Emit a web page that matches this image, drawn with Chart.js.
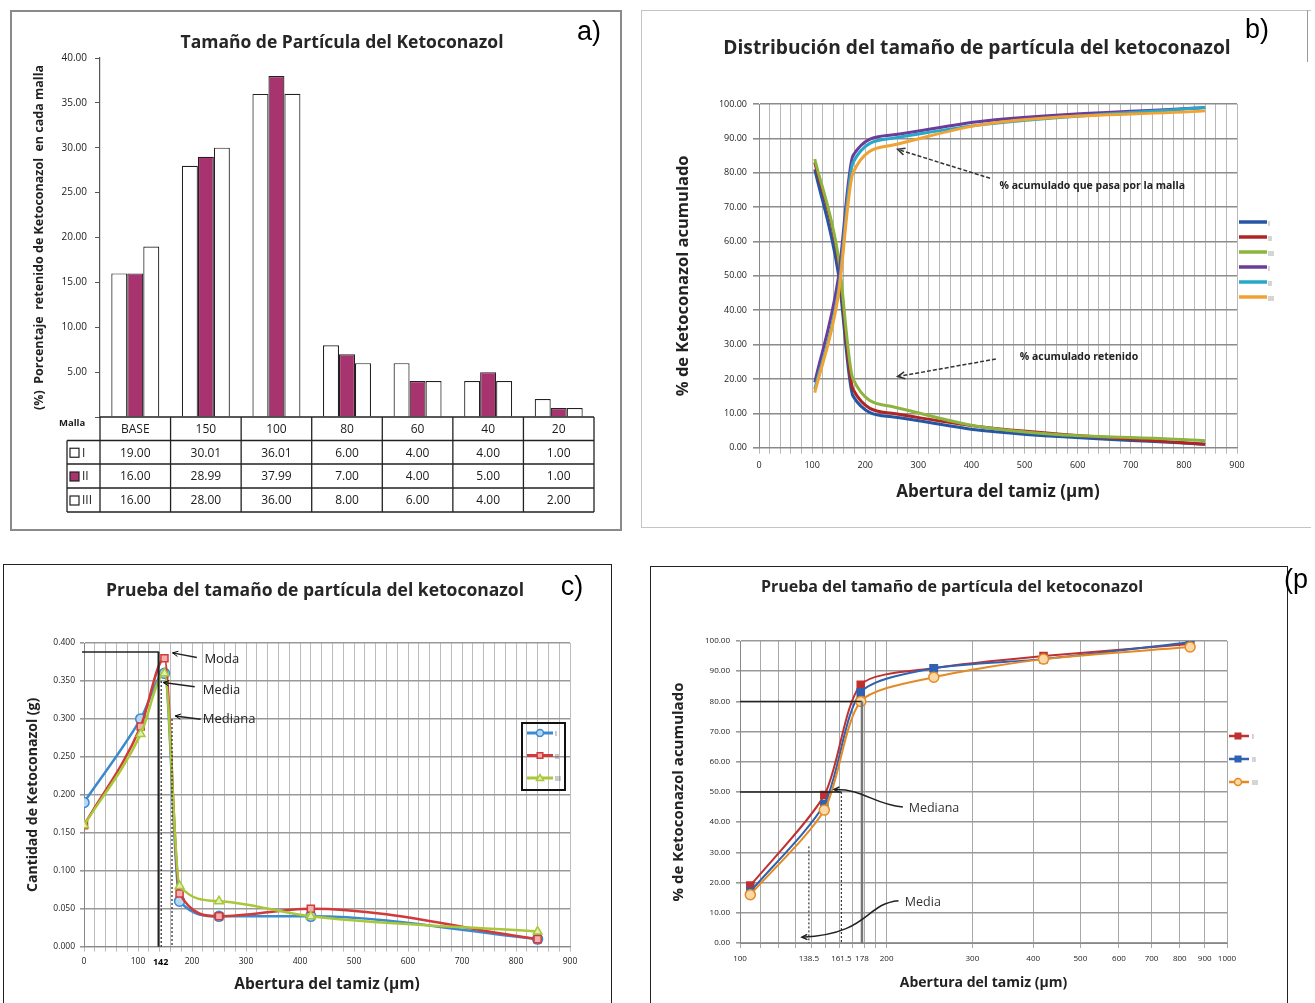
<!DOCTYPE html>
<html lang="es">
<head>
<meta charset="utf-8">
<title>Tamaño de partícula del ketoconazol</title>
<script src="https://cdn.jsdelivr.net/npm/chart.js@4.4.1/dist/chart.umd.min.js"></script>
<style>
  body { margin:0; width:1315px; height:1003px; position:relative; overflow:hidden; background:#fff; font-family:'Open Sans', Lato, sans-serif; }
  .marco, .lienzo, .txt { position:absolute; box-sizing:border-box; }
  .txt { transform:translate(-50%, -50%); white-space:nowrap; }
  .tit { font-weight:bold; color:#262626; }
  .letra { font-family:'Liberation Sans', Arial, sans-serif; font-size:27px; color:#000; }
</style>
</head>
<body>
<div class="marco" style="left:10px;top:10px;width:612px;height:521px;border:2px solid #8a8a8a"></div>
<div class="marco" style="left:641px;top:10px;width:670px;height:518px;border:1px solid #c4c4c4;border-right:none"></div>
<div class="marco" style="left:1307px;top:10px;width:1px;height:52px;background:#999"></div>
<div class="marco" style="left:3px;top:564px;width:609px;height:470px;border:1.5px solid #222"></div>
<div class="marco" style="left:650px;top:566px;width:638px;height:470px;border:1.5px solid #222"></div>

<div class="lienzo" style="left:12px;top:12px;width:606px;height:516px"><canvas id="cA"></canvas></div>
<div class="lienzo" style="left:643px;top:12px;width:665px;height:513px"><canvas id="cB"></canvas></div>
<div class="lienzo" style="left:5px;top:566px;width:604px;height:437px"><canvas id="cC"></canvas></div>
<div class="lienzo" style="left:652px;top:567px;width:633px;height:436px"><canvas id="cD"></canvas></div>

<div class="txt tit" style="left:342px;top:41px;font-size:17.5px">Tamaño de Partícula del Ketoconazol</div>
<div class="txt tit" style="left:977px;top:46px;font-size:19.2px">Distribución del tamaño de partícula del ketoconazol</div>
<div class="txt tit" style="left:315px;top:589px;font-size:17.5px">Prueba del tamaño de partícula del ketoconazol</div>
<div class="txt tit" style="left:952px;top:586px;font-size:16px">Prueba del tamaño de partícula del ketoconazol</div>
<div class="txt letra" style="left:589px;top:31px">a)</div>
<div class="txt letra" style="left:1257px;top:29px">b)</div>
<div class="txt letra" style="left:572px;top:586px">c)</div>
<div class="txt letra" style="left:1296px;top:579px">(p</div>

<script>
// a) % retenido en cada malla
const mallas = ['BASE', '150', '100', '80', '60', '40', '20'];
const retI = [19.00, 30.01, 36.01, 6.00, 4.00, 4.00, 1.00];
const retII = [16.00, 28.99, 37.99, 7.00, 4.00, 5.00, 1.00];
const retIII = [16.00, 28.00, 36.00, 8.00, 6.00, 4.00, 2.00];

// b) % acumulado, abertura en um
const aberturaB = [105, 149, 177, 250, 420, 840];
const retenidoI = [81, 51, 15, 9, 5, 1];
const retenidoII = [83, 55, 17, 10, 6, 1];
const retenidoIII = [84, 56, 20, 12, 6, 2];
const pasaI = [19, 49, 85, 91, 95, 99];
const pasaII = [17, 45, 83, 90, 94, 99];
const pasaIII = [16, 44, 80, 88, 94, 98];
const bXLabels = [0, 100, 200, 300, 400, 500, 600, 700, 800, 900];

// c) cantidad retenida (g)
const aberturaC = [0, 105, 149, 177, 250, 420, 840];
const gramosI = [0.19, 0.30, 0.36, 0.06, 0.04, 0.04, 0.01];
const gramosII = [0.16, 0.29, 0.38, 0.07, 0.04, 0.05, 0.01];
const gramosIII = [0.16, 0.28, 0.36, 0.08, 0.06, 0.04, 0.02];
const cXLabels = [0, 100, 200, 300, 400, 500, 600, 700, 800, 900];
const cModa = 142;

// d) % acumulado que pasa, eje log
const aberturaD = [105, 149, 177, 250, 420, 840];
const acumI = [19, 49, 85.5, 91, 95, 99];
const acumII = [17, 46, 83, 91, 94, 99.6];
const acumIII = [16, 44, 80, 88, 94, 98];
const dGrid = [100, 110, 120, 130, 140, 150, 160, 170, 180, 190, 200, 300, 400, 500, 600, 700, 800, 900, 1000];
const dXLabels = [100, 200, 300, 400, 500, 600, 700, 800, 900, 1000];
const dMarcas = [138.5, 161.5, 178];

const FUENTE = 'Open Sans';
Chart.defaults.font.family = FUENTE;
Chart.defaults.color = '#222';
Chart.defaults.animation = false;
Chart.defaults.plugins.legend.display = false;
Chart.defaults.plugins.tooltip.enabled = false;

const magenta = '#a8346f';
const xy = (xs, ys) => xs.map((x, i) => ({x: x, y: ys[i]}));

function punta(ctx, x, y, ang, s) {
  ctx.save();
  ctx.setLineDash([]);
  ctx.beginPath();
  ctx.moveTo(x + s * Math.cos(ang + 0.45), y + s * Math.sin(ang + 0.45));
  ctx.lineTo(x, y);
  ctx.lineTo(x + s * Math.cos(ang - 0.45), y + s * Math.sin(ang - 0.45));
  ctx.stroke();
  ctx.restore();
}

function linea(ctx, x1, y1, x2, y2, color, w, dash) {
  ctx.save();
  ctx.strokeStyle = color;
  ctx.lineWidth = w;
  ctx.setLineDash(dash || []);
  ctx.beginPath();
  ctx.moveTo(x1, y1);
  ctx.lineTo(x2, y2);
  ctx.stroke();
  ctx.restore();
}

function marca(ctx, estilo, x, y, r, fill, stroke) {
  ctx.save();
  ctx.fillStyle = fill;
  ctx.strokeStyle = stroke;
  ctx.lineWidth = 1.5;
  ctx.beginPath();
  if (estilo === 'rect') ctx.rect(x - r * 0.8, y - r * 0.8, r * 1.6, r * 1.6);
  else if (estilo === 'triangle') { ctx.moveTo(x, y - r); ctx.lineTo(x + r, y + r * 0.7); ctx.lineTo(x - r, y + r * 0.7); ctx.closePath(); }
  else ctx.arc(x, y, r, 0, Math.PI * 2);
  ctx.fill();
  ctx.stroke();
  ctx.restore();
}

// ---------- a) ----------
const tablaA = {
  id: 'tablaA',
  afterDraw(chart) {
    const {ctx, chartArea: ca} = chart;
    const colW = ca.width / mallas.length;
    const filas = [ca.bottom, ca.bottom + 23.5, ca.bottom + 47, ca.bottom + 71, ca.bottom + 95];
    const izq = ca.left - 33;
    ctx.save();
    ctx.strokeStyle = '#222';
    ctx.lineWidth = 1.3;
    ctx.beginPath();
    ctx.moveTo(ca.left, filas[0]); ctx.lineTo(ca.right, filas[0]);
    for (let i = 1; i < filas.length; i++) { ctx.moveTo(izq, filas[i]); ctx.lineTo(ca.right, filas[i]); }
    for (let i = 0; i <= mallas.length; i++) { ctx.moveTo(ca.left + i * colW, filas[0]); ctx.lineTo(ca.left + i * colW, filas[4]); }
    ctx.moveTo(izq, filas[1]); ctx.lineTo(izq, filas[4]);
    ctx.stroke();

    ctx.fillStyle = '#1a1a1a';
    ctx.textAlign = 'center';
    ctx.textBaseline = 'middle';
    ctx.font = '12px ' + FUENTE;
    mallas.forEach((m, i) => ctx.fillText(m, ca.left + (i + 0.5) * colW, filas[0] + 12.5));
    const series = [[retI, '#fff', 'I'], [retII, magenta, 'II'], [retIII, '#fff', 'III']];
    series.forEach(([vals, fill, nom], r) => {
      const yc = (filas[r + 1] + filas[r + 2]) / 2 + 1;
      vals.forEach((v, i) => ctx.fillText(v.toFixed(2), ca.left + (i + 0.5) * colW, yc));
      ctx.save();
      ctx.fillStyle = fill;
      ctx.strokeStyle = '#222';
      ctx.lineWidth = 1.2;
      ctx.fillRect(izq + 3, yc - 5, 9, 9);
      ctx.strokeRect(izq + 3, yc - 5, 9, 9);
      ctx.restore();
      ctx.textAlign = 'left';
      ctx.fillText(nom, izq + 15, yc);
      ctx.textAlign = 'center';
    });
    ctx.font = 'bold 9.5px ' + FUENTE;
    ctx.textAlign = 'left';
    ctx.fillText('Malla', izq - 8, filas[0] + 6);
    ctx.restore();
  }
};

const barra = (label, data, fill) => ({label: label, data: data, backgroundColor: fill, borderColor: '#222', borderWidth: 1.2});

new Chart(document.getElementById('cA'), {
  type: 'bar',
  data: {
    labels: mallas,
    datasets: [barra('III', retIII, '#fff'), barra('II', retII, magenta), barra('I', retI, '#fff')]
  },
  options: {
    responsive: true,
    maintainAspectRatio: false,
    datasets: {bar: {categoryPercentage: 0.68, barPercentage: 1}},
    layout: {padding: {left: 19.5, right: 24, top: 46, bottom: 111}},
    scales: {
      x: {display: false},
      y: {
        min: 0, max: 40,
        ticks: {stepSize: 5, callback: v => v === 0 ? '' : v.toFixed(2), font: {size: 10}, color: '#222', padding: 8},
        grid: {drawOnChartArea: false, tickLength: 5, color: '#555'},
        border: {color: '#555', width: 1.2},
        title: {display: true, text: '(%)  Porcentaje  retenido de Ketoconazol  en cada malla', font: {size: 12.5, weight: 'bold'}, padding: 0, color: '#222'},
        afterFit: s => { s.width = 68.5; }
      }
    }
  },
  plugins: [tablaA]
});

// ---------- b) ----------
const coloresB = ['#2456a4', '#b02424', '#8db43e', '#6a3d9a', '#27a8c8', '#f0a232'];
const nombresB = ['I', 'II', 'III', 'I', 'II', 'III'];
const seriesB = [retenidoI, retenidoII, retenidoIII, pasaI, pasaII, pasaIII];

const notasB = {
  id: 'notasB',
  afterDatasetsDraw(chart) {
    const {ctx, chartArea: ca, scales: {x, y}} = chart;
    ctx.save();
    ctx.strokeStyle = '#333';
    ctx.lineWidth = 1.5;
    const flechas = [[435, 78.4, 261, 86.8], [446, 25.8, 261, 20.7]];
    flechas.forEach(([x1, y1, x2, y2]) => {
      const a = x.getPixelForValue(x1), b = y.getPixelForValue(y1);
      const c = x.getPixelForValue(x2), d = y.getPixelForValue(y2);
      linea(ctx, a, b, c, d, '#333', 1.5, [4, 2]);
      punta(ctx, c, d, Math.atan2(b - d, a - c), 8);
    });
    ctx.fillStyle = '#222';
    ctx.font = 'bold 10.5px ' + FUENTE;
    ctx.textBaseline = 'middle';
    ctx.fillText('% acumulado que pasa por la malla', x.getPixelForValue(453), y.getPixelForValue(76));
    ctx.fillText('% acumulado retenido', x.getPixelForValue(491), y.getPixelForValue(26.4));
    // leyenda
    chart.data.datasets.forEach((ds, i) => {
      const ly = ca.top + 118 + i * 15;
      linea(ctx, ca.right + 2, ly, ca.right + 30, ly, ds.borderColor, 3.5);
      ctx.font = '7px ' + FUENTE;
      ctx.fillStyle = '#777';
      ctx.fillText(ds.label, ca.right + 31, ly + 2);
    });
    ctx.restore();
  }
};

new Chart(document.getElementById('cB'), {
  type: 'line',
  data: {
    datasets: seriesB.map((s, i) => ({
      label: nombresB[i], data: xy(aberturaB, s), borderColor: coloresB[i], borderWidth: 3, order: 6 - i,
      pointRadius: 0, cubicInterpolationMode: 'monotone', fill: false
    }))
  },
  options: {
    responsive: true,
    maintainAspectRatio: false,
    layout: {padding: {left: 27, right: 71, top: 92, bottom: 19}},
    scales: {
      x: {
        type: 'linear', min: 0, max: 900,
        ticks: {stepSize: 20, autoSkip: false, maxRotation: 0, minRotation: 0, callback: v => bXLabels.includes(v) ? String(v) : '', font: {size: 9}, padding: 6},
        grid: {color: '#b8b8b8', lineWidth: 1, tickLength: 6},
        border: {color: '#888'},
        title: {display: true, text: 'Abertura del tamiz (µm)', font: {size: 17, weight: 'bold'}, color: '#222', padding: {top: 0, bottom: 4}},
        afterFit: s => { s.height = 58.3; }
      },
      y: {
        min: 0, max: 100,
        ticks: {stepSize: 10, callback: v => v.toFixed(2), font: {size: 9}, padding: 6},
        grid: {color: '#8c8c8c', lineWidth: 1.6, tickLength: 6},
        border: {color: '#888'},
        title: {display: true, text: '% de Ketoconazol acumulado', font: {size: 16.5, weight: 'bold'}, color: '#222', padding: {top: 3, bottom: 0}},
        afterFit: s => { s.width = 89; }
      }
    }
  },
  plugins: [notasB]
});

// ---------- c) ----------
const notasC = {
  id: 'notasC',
  afterDatasetsDraw(chart) {
    const {ctx, chartArea: ca, scales: {x, y}} = chart;
    const px = v => x.getPixelForValue(v), py = v => y.getPixelForValue(v);
    ctx.save();
    linea(ctx, px(0) - 2, py(0.388), px(139), py(0.388), '#222', 1.5);
    linea(ctx, px(138), py(0.388), px(138), py(0), '#222', 2);
    linea(ctx, px(143), py(0.35), px(143), py(0), '#333', 1.3, [2, 2]);
    linea(ctx, px(163), py(0.30), px(163), py(0), '#333', 1.3, [2, 2]);
    const notas = [['Moda', 223, 0.378, 209, 0.381, 164, 0.387], ['Media', 220, 0.338, 205, 0.3425, 147, 0.348], ['Mediana', 220, 0.2995, 216, 0.2995, 169, 0.304]];
    ctx.font = '13px ' + FUENTE;
    ctx.fillStyle = '#222';
    ctx.textBaseline = 'middle';
    notas.forEach(([t, tx, ty, x1, y1, x2, y2]) => {
      linea(ctx, px(x1), py(y1), px(x2), py(y2), '#222', 1.5);
      punta(ctx, px(x2), py(y2), Math.atan2(py(y1) - py(y2), px(x1) - px(x2)), 6);
      ctx.fillText(t, px(tx), py(ty));
    });
    // leyenda
    const bx = ca.right - 48, by = ca.top + 80;
    ctx.strokeStyle = '#111';
    ctx.lineWidth = 2;
    ctx.strokeRect(bx, by, 43, 67);
    chart.data.datasets.forEach((ds, i) => {
      const ly = by + 10 + i * 22.5;
      linea(ctx, bx + 5, ly, bx + 31, ly, ds.borderColor, 3);
      marca(ctx, ds.pointStyle, bx + 18, ly, 3.5, ds.pointBackgroundColor, ds.borderColor);
      ctx.font = '7px ' + FUENTE;
      ctx.fillStyle = '#555';
      ctx.fillText(ds.label, bx + 33, ly + 1);
    });
    ctx.restore();
  }
};

const lineaC = (label, data, color, fondo, estilo, orden) => ({
  label: label, data: xy(aberturaC, data), borderColor: color, borderWidth: 2.5, order: orden,
  pointStyle: estilo, pointRadius: 5, pointBorderWidth: 1.5, pointBackgroundColor: fondo, pointBorderColor: color,
  cubicInterpolationMode: 'monotone', fill: false
});

new Chart(document.getElementById('cC'), {
  type: 'line',
  data: {
    datasets: [
      lineaC('I', gramosI, '#3a8ad0', '#b7d8f2', 'circle', 3),
      lineaC('II', gramosII, '#d23a3a', '#f3b0b0', 'rect', 2),
      lineaC('III', gramosIII, '#a8c83a', '#e2efb0', 'triangle', 1)
    ]
  },
  options: {
    responsive: true,
    maintainAspectRatio: false,
    layout: {padding: {left: 17, right: 39, top: 77, bottom: 6}},
    scales: {
      x: {
        type: 'linear', min: 0, max: 900,
        afterBuildTicks: s => { s.ticks.push({value: cModa}); s.ticks.sort((a, b) => a.value - b.value); },
        ticks: {
          stepSize: 20, autoSkip: false, maxRotation: 0, minRotation: 0,
          callback: v => (cXLabels.includes(v) || v === cModa) ? String(v) : '',
          font: c => (c.tick && c.tick.value === cModa) ? {size: 9, weight: 'bold'} : {size: 8.5},
          color: c => (c.tick && c.tick.value === cModa) ? '#000' : '#222',
          padding: 5
        },
        grid: {color: c => (c.tick && c.tick.value === cModa) ? 'rgba(0,0,0,0)' : '#bcbcbc', lineWidth: 1, tickLength: 5},
        border: {color: '#888'},
        title: {display: true, text: 'Abertura del tamiz (µm)', font: {size: 15.5, weight: 'bold'}, color: '#222', padding: {top: 0, bottom: 3}},
        afterFit: s => { s.height = 50.3; }
      },
      y: {
        min: 0, max: 0.4,
        ticks: {stepSize: 0.05, callback: v => v.toFixed(3), font: {size: 8.5}, padding: 5},
        grid: {color: '#999', lineWidth: 1.6, tickLength: 4},
        border: {color: '#888'},
        title: {display: true, text: 'Cantidad de Ketoconazol (g)', font: {size: 14, weight: 'bold'}, color: '#222', padding: {top: 3, bottom: 0}},
        afterFit: s => { s.width = 62; }
      }
    }
  },
  plugins: [notasC]
});

// ---------- d) ----------
const notasD = {
  id: 'notasD',
  afterDatasetsDraw(chart) {
    const {ctx, chartArea: ca, scales: {x, y}} = chart;
    const px = v => x.getPixelForValue(v), py = v => y.getPixelForValue(v);
    ctx.save();
    linea(ctx, px(100), py(80), px(178), py(80), '#222', 1.5);
    linea(ctx, px(100), py(50), px(161.5), py(50), '#222', 1.5);
    linea(ctx, px(178), py(80), px(178), py(0), '#777', 2.5);
    linea(ctx, px(161.5), py(50), px(161.5), py(0), '#333', 1.2, [2, 2]);
    linea(ctx, px(138.5), py(32), px(138.5), py(0), '#333', 1.2, [2, 2]);
    ctx.strokeStyle = '#222';
    ctx.lineWidth = 1.5;
    const curvas = [[216, 45, 187, 46, 180, 51, 156, 50.8], [211.6, 14, 180, 13, 185, 3, 134, 1.9]];
    curvas.forEach(c => {
      const p = [];
      for (let i = 0; i < 8; i += 2) p.push([px(c[i]), py(c[i + 1])]);
      ctx.beginPath();
      ctx.moveTo(p[0][0], p[0][1]);
      ctx.bezierCurveTo(p[1][0], p[1][1], p[2][0], p[2][1], p[3][0], p[3][1]);
      ctx.stroke();
      punta(ctx, p[3][0], p[3][1], Math.atan2(p[2][1] - p[3][1], p[2][0] - p[3][0]), 6);
    });
    ctx.font = '12.5px ' + FUENTE;
    ctx.fillStyle = '#333';
    ctx.textBaseline = 'middle';
    ctx.fillText('Mediana', px(222), py(44.6));
    ctx.fillText('Media', px(218), py(13.3));
    // leyenda
    chart.data.datasets.forEach((ds, i) => {
      const ly = ca.top + 95 + i * 23;
      linea(ctx, ca.right + 2, ly, ca.right + 22, ly, ds.borderColor, 2.5);
      marca(ctx, ds.pointStyle, ca.right + 11, ly, 3.5, ds.pointBackgroundColor, ds.borderColor);
      ctx.font = '7px ' + FUENTE;
      ctx.fillStyle = '#777';
      ctx.fillText(ds.label, ca.right + 25, ly + 1);
    });
    ctx.restore();
  }
};

const lineaD = (label, data, color, fondo, estilo, orden) => ({
  label: label, data: xy(aberturaD, data), borderColor: color, borderWidth: 2, order: orden,
  pointStyle: estilo, pointRadius: 5, pointBorderWidth: 1.5, pointBackgroundColor: fondo, pointBorderColor: color,
  tension: 0.25, fill: false
});

new Chart(document.getElementById('cD'), {
  type: 'line',
  data: {
    datasets: [
      lineaD('I', acumI, '#c0302f', '#c0302f', 'rect', 3),
      lineaD('II', acumII, '#2f62b0', '#2f62b0', 'rect', 2),
      lineaD('III', acumIII, '#e48a24', '#fbd9a6', 'circle', 1)
    ]
  },
  options: {
    responsive: true,
    maintainAspectRatio: false,
    layout: {padding: {left: 15, right: 58, top: 74, bottom: 8}},
    scales: {
      x: {
        type: 'logarithmic', min: 100, max: 1000,
        afterBuildTicks: s => { s.ticks = dGrid.concat(dMarcas).sort((a, b) => a - b).map(v => ({value: v})); },
        ticks: {
          autoSkip: false, maxRotation: 0, minRotation: 0,
          callback: v => (dXLabels.includes(v) || dMarcas.includes(v)) ? String(v) : '',
          font: {size: 8}, padding: 6
        },
        grid: {color: c => (c.tick && dMarcas.includes(c.tick.value)) ? 'rgba(0,0,0,0)' : '#a8a8a8', lineWidth: 1, tickLength: 5},
        border: {color: '#888'},
        title: {display: true, text: 'Abertura del tamiz (µm)', font: {size: 14, weight: 'bold'}, color: '#222', padding: {top: 0, bottom: 4}},
        afterFit: s => { s.height = 52; }
      },
      y: {
        min: 0, max: 100,
        ticks: {stepSize: 10, callback: v => v.toFixed(2), font: {size: 8}, padding: 6},
        grid: {color: '#999', lineWidth: 1.6, tickLength: 4},
        border: {color: '#888'},
        title: {display: true, text: '% de Ketoconazol acumulado', font: {size: 15, weight: 'bold'}, color: '#222', padding: {top: 3, bottom: 0}},
        afterFit: s => { s.width = 73; }
      }
    }
  },
  plugins: [notasD]
});
</script>
</body>
</html>
